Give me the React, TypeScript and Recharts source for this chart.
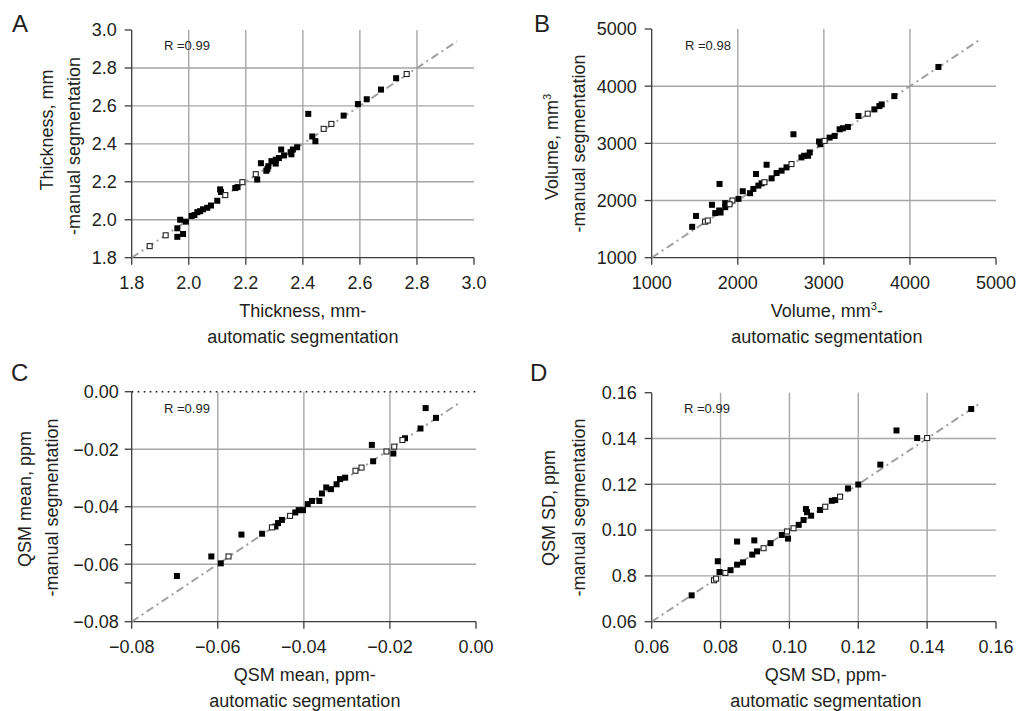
import React from 'react';
import { ScatterChart, Scatter, XAxis, YAxis, CartesianGrid, ReferenceLine } from 'recharts';

const FONT = '"Liberation Sans", Arial, Helvetica, sans-serif';
const TEXT = '#231f20';
const AXIS = '#3c3c3c';
const GRID = '#a6a6a6';

type P = [number, number];

// ---------- Panel A: Thickness (mm) ----------
const thicknessTicks = [1.8, 2.0, 2.2, 2.4, 2.6, 2.8, 3.0];
const thicknessLabels = ['1.8', '2.0', '2.2', '2.4', '2.6', '2.8', '3.0'];
const thicknessGrid = [2.0, 2.2, 2.4, 2.6, 2.8];
const thicknessIdentity: P[] = [[1.8, 1.8], [2.94, 2.94]];
const thicknessFilled: P[] = [
  [1.96, 1.91], [1.98, 1.925], [1.96, 1.955], [1.97, 2.0], [1.99, 1.99], [2.01, 2.02], [2.02, 2.025],
  [2.03, 2.04], [2.04, 2.045], [2.05, 2.055], [2.065, 2.063], [2.078, 2.075], [2.1, 2.1], [2.11, 2.16],
  [2.113, 2.146], [2.163, 2.167], [2.171, 2.172], [2.24, 2.212], [2.253, 2.298], [2.272, 2.258],
  [2.276, 2.268], [2.279, 2.282], [2.29, 2.309], [2.305, 2.316], [2.305, 2.296], [2.316, 2.325],
  [2.324, 2.37], [2.334, 2.339], [2.357, 2.356], [2.36, 2.345], [2.365, 2.37], [2.38, 2.382],
  [2.419, 2.558], [2.433, 2.439], [2.444, 2.414], [2.543, 2.549], [2.593, 2.61], [2.624, 2.635],
  [2.674, 2.686], [2.727, 2.746],
];
const thicknessOpen: P[] = [
  [1.863, 1.861], [1.919, 1.918], [2.128, 2.13], [2.188, 2.198], [2.235, 2.24], [2.473, 2.479],
  [2.5, 2.505], [2.764, 2.768],
];

// ---------- Panel B: Volume (mm3) ----------
const volumeTicks = [1000, 2000, 3000, 4000, 5000];
const volumeLabels = ['1000', '2000', '3000', '4000', '5000'];
const volumeGrid = [2000, 3000, 4000];
const volumeIdentity: P[] = [[1000, 1000], [4810, 4810]];
const volumeFilled: P[] = [
  [1470, 1540], [1515, 1730], [1700, 1925], [1738, 1780], [1784, 1826], [1800, 1790], [1788, 2290],
  [1854, 1954], [1854, 1884], [2008, 2029], [2058, 2162], [2143, 2128], [2181, 2203], [2212, 2464],
  [2239, 2261], [2277, 2301], [2335, 2626], [2393, 2388], [2451, 2481], [2509, 2522], [2566, 2580],
  [2647, 3159], [2740, 2754], [2771, 2783], [2817, 2783], [2836, 2841], [2944, 3032], [2959, 2985],
  [3067, 3101], [3125, 3130], [3183, 3246], [3221, 3264], [3279, 3287], [3402, 3478], [3587, 3594],
  [3645, 3652], [3672, 3681], [3819, 3826], [4331, 4336],
];
const volumeOpen: P[] = [
  [1620, 1630], [1652, 1650], [1938, 2000], [1905, 1935], [2310, 2320], [2624, 2638], [3009, 3043],
  [3510, 3519],
];

// ---------- Panel C: QSM mean (ppm) ----------
const meanXTicks = [-0.08, -0.06, -0.04, -0.02, 0];
const meanXLabels = ['\u22120.08', '\u22120.06', '\u22120.04', '\u22120.02', '0.00'];
const meanYTicks = [-0.08, -0.0665, -0.06, -0.0532, -0.04, -0.02, 0];
const meanYLabels = ['\u22120.08', '', '\u22120.06', '', '\u22120.04', '\u22120.02', '0.00'];
const meanGrid = [-0.06, -0.04, -0.02];
const meanIdentity: P[] = [[-0.08, -0.08], [-0.0037, -0.0037]];
const meanFilled: P[] = [
  [-0.0695, -0.0641], [-0.0615, -0.0573], [-0.0593, -0.0597], [-0.0545, -0.0497], [-0.0497, -0.0494],
  [-0.0466, -0.0469], [-0.046, -0.0457], [-0.0451, -0.0446], [-0.042, -0.042], [-0.0412, -0.0412],
  [-0.0402, -0.0412], [-0.0391, -0.0391], [-0.0381, -0.038], [-0.0364, -0.038], [-0.0358, -0.0354],
  [-0.0348, -0.0333], [-0.0337, -0.0339], [-0.0324, -0.0322], [-0.0316, -0.0304], [-0.0304, -0.0299],
  [-0.0242, -0.0185], [-0.0239, -0.0242], [-0.0192, -0.0215], [-0.0165, -0.0162], [-0.0129, -0.0128],
  [-0.0117, -0.0057], [-0.0093, -0.0091],
];
const meanOpen: P[] = [
  [-0.0575, -0.0573], [-0.0474, -0.0472], [-0.0432, -0.0432], [-0.028, -0.0275], [-0.0266, -0.0264],
  [-0.0208, -0.0208], [-0.019, -0.0191], [-0.0171, -0.0168],
];

// ---------- Panel D: QSM SD (ppm) ----------
const sdTicks = [0.06, 0.08, 0.1, 0.12, 0.14, 0.16];
const sdXLabels = ['0.06', '0.08', '0.10', '0.12', '0.14', '0.16'];
const sdYLabels = ['0.06', '0.8', '0.10', '0.12', '0.14', '0.16'];
const sdGrid = [0.08, 0.1, 0.12, 0.14];
const sdIdentity: P[] = [[0.06, 0.06], [0.155, 0.155]];
const sdFilled: P[] = [
  [0.0716, 0.0715], [0.0792, 0.0864], [0.0797, 0.0817], [0.0829, 0.0825], [0.0848, 0.0849],
  [0.0865, 0.0859], [0.0848, 0.095], [0.0892, 0.0893], [0.0898, 0.0955], [0.0906, 0.0907],
  [0.0945, 0.0943], [0.0978, 0.0979], [0.0996, 0.0963], [0.1027, 0.1023], [0.1041, 0.1044],
  [0.1048, 0.1092], [0.1051, 0.1078], [0.1063, 0.1063], [0.1089, 0.1088], [0.1123, 0.1128],
  [0.1133, 0.1131], [0.117, 0.1182], [0.12, 0.1199], [0.1264, 0.1286], [0.1311, 0.1435],
  [0.1371, 0.1402], [0.1528, 0.1529],
];
const sdOpen: P[] = [
  [0.0781, 0.0781], [0.0787, 0.0788], [0.0814, 0.0813], [0.0925, 0.0921], [0.0993, 0.0994],
  [0.1012, 0.1008], [0.1104, 0.1102], [0.1147, 0.1146], [0.14, 0.1402],
];

const toPts = (a: P[]) => a.map(([x, y]) => ({ x, y }));

const FilledSquare = (props: any) => {
  const { cx, cy } = props;
  if (cx == null || cy == null) return <g />;
  return <rect x={cx - 3} y={cy - 3} width={6} height={6} fill="#000" />;
};
const OpenSquare = (props: any) => {
  const { cx, cy } = props;
  if (cx == null || cy == null) return <g />;
  return <rect x={cx - 2.5} y={cy - 2.5} width={5} height={5} fill="#fff" stroke="#222" strokeWidth={1.1} />;
};
const NoShape = () => <g />;

interface Panel {
  letter: string;
  left: number; top: number; width: number; height: number;
  plotLeft: number; plotTop: number; plotRight: number; plotBottom: number;
  xTicks: number[]; xLabels: string[]; yTicks: number[]; yLabels: string[];
  gridX: number[]; gridY: number[];
  identity: P[]; filled: P[]; open: P[];
  r: string;
  letterPos: [number, number];
  rPos: [number, number];
  xTitle: React.ReactNode[];
  xTitleShift: number;
  yTitle: React.ReactNode[];
  yTitlePos: [number, number][]; // [baselineX, centerY]
  yTickMargin: number;
  zeroDotted?: boolean;
}

const sup = (s: string) => (
  <tspan dy={-7} fontSize={11}>{s}</tspan>
);

const panels: Panel[] = [
  {
    letter: 'A', left: 0, top: 0, width: 508, height: 355,
    plotLeft: 131.7, plotTop: 30, plotRight: 474, plotBottom: 257.7,
    xTicks: thicknessTicks, xLabels: thicknessLabels, yTicks: thicknessTicks, yLabels: thicknessLabels,
    gridX: thicknessGrid, gridY: thicknessGrid,
    identity: thicknessIdentity, filled: thicknessFilled, open: thicknessOpen,
    r: 'R =0.99', letterPos: [12, 32], rPos: [164, 50],
    xTitle: ['Thickness, mm-', 'automatic segmentation'], xTitleShift: 0,
    yTitle: ['Thickness, mm', '-manual segmentation'],
    yTitlePos: [[53, 130], [80, 146]], yTickMargin: 8,
  },
  {
    letter: 'B', left: 508, top: 0, width: 509, height: 355,
    plotLeft: 143.7, plotTop: 29, plotRight: 488, plotBottom: 257.7,
    xTicks: volumeTicks, xLabels: volumeLabels, yTicks: volumeTicks, yLabels: volumeLabels,
    gridX: volumeGrid, gridY: volumeGrid,
    identity: volumeIdentity, filled: volumeFilled, open: volumeOpen,
    r: 'R =0.98', letterPos: [26, 32], rPos: [177, 50],
    xTitle: [
      <>Volume, mm{sup('3')}<tspan dy={7}>-</tspan></>,
      'automatic segmentation',
    ], xTitleShift: 3,
    yTitle: [<>Volume, mm{sup('3')}</>, '-manual segmentation'],
    yTitlePos: [[50, 147], [77, 143.5]], yTickMargin: 8,
  },
  {
    letter: 'C', left: 0, top: 355, width: 508, height: 356,
    plotLeft: 131.7, plotTop: 36.7, plotRight: 476, plotBottom: 266.7,
    xTicks: meanXTicks, xLabels: meanXLabels, yTicks: meanYTicks, yLabels: meanYLabels,
    gridX: meanGrid, gridY: meanGrid,
    identity: meanIdentity, filled: meanFilled, open: meanOpen,
    r: 'R =0.99', letterPos: [11, 26], rPos: [164, 58],
    xTitle: ['QSM mean, ppm-', 'automatic segmentation'], xTitleShift: 1,
    yTitle: ['QSM mean, ppm', '-manual segmentation'],
    yTitlePos: [[31, 144], [58, 152.5]], yTickMargin: 6, zeroDotted: true,
  },
  {
    letter: 'D', left: 508, top: 355, width: 509, height: 356,
    plotLeft: 143.7, plotTop: 37.7, plotRight: 488, plotBottom: 266.7,
    xTicks: sdTicks, xLabels: sdXLabels, yTicks: sdTicks, yLabels: sdYLabels,
    gridX: sdGrid, gridY: sdGrid,
    identity: sdIdentity, filled: sdFilled, open: sdOpen,
    r: 'R =0.99', letterPos: [22, 26], rPos: [176, 58],
    xTitle: ['QSM SD, ppm-', 'automatic segmentation'], xTitleShift: 2,
    yTitle: ['QSM SD, ppm', '-manual segmentation'],
    yTitlePos: [[47, 153], [77, 152.5]], yTickMargin: 8,
  },
];

const labelFor = (ticks: number[], labels: string[]) => (v: number) => {
  const i = ticks.findIndex((t) => Math.abs(t - v) < 1e-9);
  return i >= 0 ? labels[i] : '';
};

const tickStyle = { fill: TEXT, fontSize: 18, fontFamily: FONT };

function PanelChart({ p }: { p: Panel }) {
  const xDomain: [number, number] = [p.xTicks[0], p.xTicks[p.xTicks.length - 1]];
  const yDomain: [number, number] = [p.yTicks[0], p.yTicks[p.yTicks.length - 1]];
  const xCenter = (p.plotLeft + p.plotRight) / 2 + p.xTitleShift;
  return (
    <div style={{ position: 'absolute', left: p.left, top: p.top, width: p.width, height: p.height }}>
      <ScatterChart
        width={p.width}
        height={p.height}
        margin={{ top: p.plotTop, right: p.width - p.plotRight, bottom: 0, left: 0 }}
      >
        <CartesianGrid
          stroke={GRID}
          strokeWidth={1.4}
          horizontalValues={p.gridY}
          verticalValues={p.gridX}
        />
        <XAxis
          type="number"
          dataKey="x"
          domain={xDomain}
          ticks={p.xTicks}
          interval={0}
          allowDataOverflow
          tickFormatter={labelFor(p.xTicks, p.xLabels)}
          height={p.height - p.plotBottom}
          axisLine={{ stroke: AXIS, strokeWidth: 1.3 }}
          tickLine={{ stroke: AXIS, strokeWidth: 1.3 }}
          tickSize={7}
          tickMargin={12}
          tick={tickStyle}
        />
        <YAxis
          type="number"
          dataKey="y"
          domain={yDomain}
          ticks={p.yTicks}
          interval={0}
          allowDataOverflow
          tickFormatter={labelFor(p.yTicks, p.yLabels)}
          width={p.plotLeft}
          axisLine={{ stroke: AXIS, strokeWidth: 1.3 }}
          tickLine={{ stroke: AXIS, strokeWidth: 1.3 }}
          tickSize={7}
          tickMargin={p.yTickMargin}
          tick={tickStyle}
        />
        {p.zeroDotted && (
          <ReferenceLine y={0} stroke="#111" strokeWidth={1.6} strokeDasharray="1.6 4.4" />
        )}
        <Scatter
          data={toPts(p.identity)}
          shape={NoShape}
          line={{ stroke: '#a0a0a0', strokeWidth: 2, strokeDasharray: '8 4 2 4' }}
          isAnimationActive={false}
        />
        <Scatter data={toPts(p.filled)} shape={FilledSquare} isAnimationActive={false} />
        <Scatter data={toPts(p.open)} shape={OpenSquare} isAnimationActive={false} />
      </ScatterChart>
      <svg
        width={p.width}
        height={p.height}
        style={{ position: 'absolute', left: 0, top: 0, pointerEvents: 'none' }}
        fontFamily={FONT}
      >
        <text x={p.letterPos[0]} y={p.letterPos[1]} fontSize={24} fill={TEXT}>{p.letter}</text>
        <text x={p.rPos[0]} y={p.rPos[1]} fontSize={13} fill={TEXT}>{p.r}</text>
        <text x={xCenter} y={p.plotBottom + 59} fontSize={18} fill={TEXT} textAnchor="middle">{p.xTitle[0]}</text>
        <text x={xCenter} y={p.plotBottom + 85} fontSize={18} fill={TEXT} textAnchor="middle">{p.xTitle[1]}</text>
        {p.yTitle.map((t, i) => (
          <text
            key={i}
            transform={`translate(${p.yTitlePos[i][0]},${p.yTitlePos[i][1]}) rotate(-90)`}
            fontSize={18}
            fill={TEXT}
            textAnchor="middle"
          >
            {t}
          </text>
        ))}
      </svg>
    </div>
  );
}

export default function App() {
  return (
    <div style={{ position: 'absolute', left: 0, top: 0, width: 1017, height: 711, background: '#fff' }}>
      {panels.map((p) => (
        <PanelChart key={p.letter} p={p} />
      ))}
    </div>
  );
}
